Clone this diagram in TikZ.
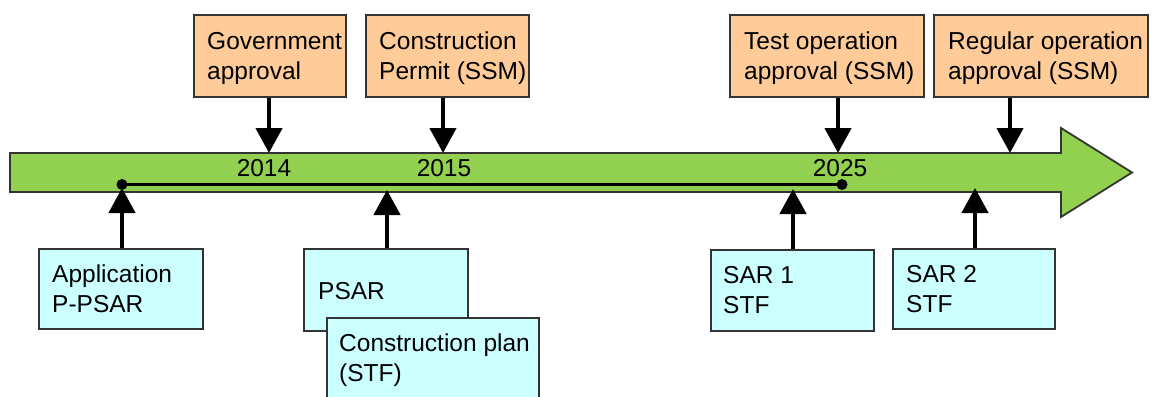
\documentclass[tikz,border=0pt]{standalone}
\usepackage{fontspec}
\setmainfont{Liberation Sans}
\usetikzlibrary{arrows.meta}
\definecolor{bargreen}{HTML}{92D050}
\definecolor{boxorange}{HTML}{FFCC99}
\definecolor{boxcyan}{HTML}{CCFFFF}
\definecolor{edgegray}{HTML}{333333}

\begin{document}
\begin{tikzpicture}[x=1pt,y=-1pt,
  evt/.style={draw=edgegray, line width=1.8pt, fill=boxorange, inner sep=0pt, anchor=north west},
  doc/.style={draw=edgegray, line width=1.8pt, fill=boxcyan, inner sep=0pt, anchor=north west},
  % multi-line labels are placed by the baseline of their last line
  lbl/.style={anchor=base west, inner sep=0pt, align=left, font=\fontsize{24.5}{29.5}\selectfont},
  yr/.style={anchor=base, inner sep=0pt, font=\fontsize{24.5}{29.5}\selectfont},
  conn/.style={line width=4.5pt, -{Triangle[width=26pt,length=25pt]}},
  dot/.style={circle, fill=black, inner sep=0pt, minimum size=11pt}]

\useasboundingbox (0,0) rectangle (1153,396);
\clip (0,0) rectangle (1153,396);

% time axis drawn as a wide arrow
\draw[draw=edgegray, line width=1.8pt, fill=bargreen]
  (10,153) -- (1061,153) -- (1061,128) -- (1132,172.5) -- (1061,217)
  -- (1061,192) -- (10,192) -- cycle;

% project span on the axis
\node[dot] (start) at (122,184.5) {};
\node[dot] (finish) at (842,184.5) {};
\draw[line width=2.8pt] (start.center) -- (finish.center);

% years
\node[yr] (y2014) at (264,176.5) {2014};
\node[yr] (y2015) at (444,176.5) {2015};
\node[yr] (y2025) at (840,176.5) {2025};

% points where the decisions meet the axis
\coordinate (pGov) at (269,153);
\coordinate (pCon) at (443,153);
\coordinate (pTest) at (838,153);
\coordinate (pReg) at (1010,153);
% points where the documents meet the axis
\coordinate (pApp) at (122,188);
\coordinate (pPsar) at (387,190);
\coordinate (pSar1) at (793,189);
\coordinate (pSar2) at (975,188);

% decisions
\node[evt, minimum width=152pt, minimum height=82pt] (gov) at (193,14) {};
\node[lbl] (govT) at (207,79) {Government\\approval};
\node[evt, minimum width=163pt, minimum height=82pt] (con) at (365,14) {};
\node[lbl] (conT) at (379,79) {Construction\\Permit (SSM)};
\node[evt, minimum width=194pt, minimum height=82pt] (test) at (729,14) {};
\node[lbl] (testT) at (744,79) {Test operation\\approval (SSM)};
\node[evt, minimum width=214pt, minimum height=82pt] (reg) at (933,14) {};
\node[lbl] (regT) at (948,79) {Regular operation\\approval (SSM)};

\draw[conn] (pGov |- gov.south) -- (pGov);
\draw[conn] (pCon |- con.south) -- (pCon);
\draw[conn] (pTest |- test.south) -- (pTest);
\draw[conn] (pReg |- reg.south) -- (pReg);

% documents
\node[doc, minimum width=164pt, minimum height=80pt] (app) at (38,248) {};
\node[lbl] (appT) at (52,312) {Application\\P-PSAR};
\node[doc, minimum width=164pt, minimum height=82pt] (psar) at (303,248) {};
\node[lbl] (psarT) at (318,299) {PSAR};
\node[doc, minimum width=212pt, minimum height=82pt] (plan) at (326,317) {};
\node[lbl] (planT) at (339,381) {Construction plan\\(STF)};
\node[doc, minimum width=163pt, minimum height=81pt] (sar1) at (710,249) {};
\node[lbl] (sar1T) at (723,313) {SAR 1\\STF};
\node[doc, minimum width=162pt, minimum height=80pt] (sar2) at (892,248) {};
\node[lbl] (sar2T) at (906,312) {SAR 2\\STF};

\draw[conn] (pApp |- app.north) -- (pApp);
\draw[conn] (pPsar |- psar.north) -- (pPsar);
\draw[conn] (pSar1 |- sar1.north) -- (pSar1);
\draw[conn] (pSar2 |- sar2.north) -- (pSar2);
\end{tikzpicture}
\end{document}
